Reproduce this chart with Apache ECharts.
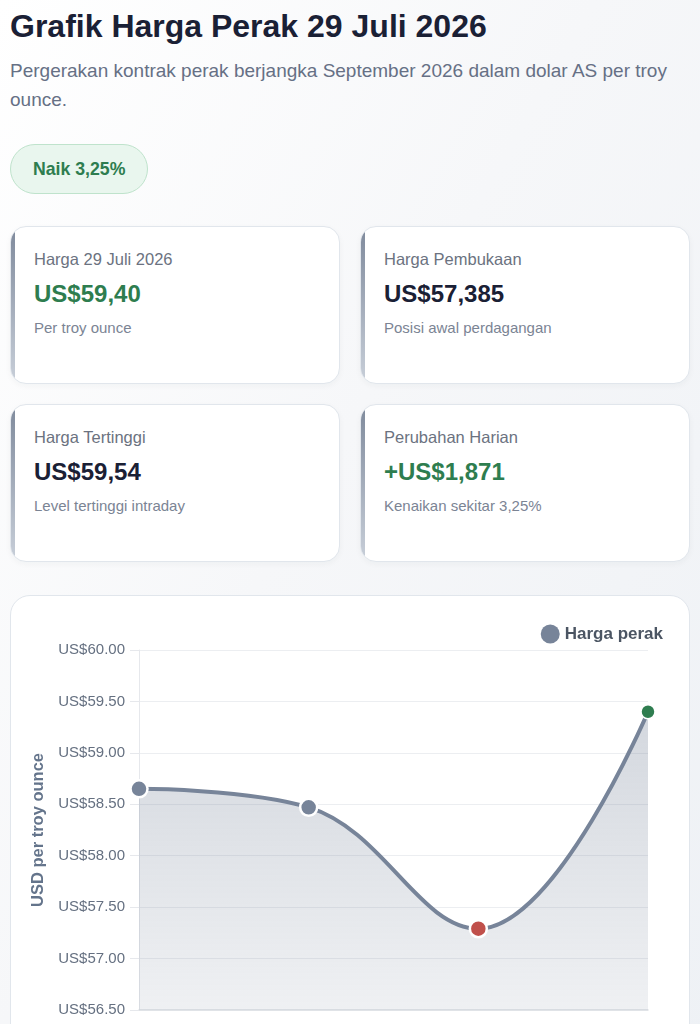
<!DOCTYPE html>
<html lang="id">
<head>
<meta charset="utf-8">
<title>Grafik Harga Perak 29 Juli 2026</title>
<script src="https://cdn.jsdelivr.net/npm/echarts@6/dist/echarts.min.js"></script>
<style>
  html, body { margin: 0; padding: 0; }
  body {
    font-family: "Liberation Sans", Arial, Helvetica, sans-serif;
    background: linear-gradient(120deg, #ffffff 0%, #f6f7f9 45%, #eef1f5 100%);
    width: 700px; min-height: 1024px; overflow: hidden;
  }
  .wrap { padding: 7px 10px 0 10px; }
  h1 { margin: 0; font-size: 32px; line-height: 38.4px; font-weight: 700; color: #1a2035; }
  .sub { margin: 10.5px 0 0 0; font-size: 19px; line-height: 29px; color: #667085; }
  .badge {
    display: inline-block; margin-top: 30px; height: 48px; line-height: 48px;
    padding: 0 22px; border-radius: 25px; background: #e9f6ee; border: 1px solid #bfe3cc;
    color: #2e7d4f; font-weight: 700; font-size: 17.7px;
  }
  .cards { display: grid; grid-template-columns: 330px 330px; gap: 20px; margin-top: 32px; }
  .card {
    position: relative; height: 158px; box-sizing: border-box; background: #fff;
    border: 1px solid #e1e6ec; border-radius: 16px; padding: 21px 0 0 23px; overflow: hidden;
    box-shadow: 0 2px 6px rgba(30, 41, 59, 0.04);
  }
  .card::before {
    content: ""; position: absolute; left: 0; top: 0; bottom: 0; width: 4px;
    background: linear-gradient(180deg, #7f8a9c 0%, #c8cfd9 100%);
  }
  .lbl { font-size: 16.5px; line-height: 22px; color: #6b7280; }
  .val { margin-top: 10px; font-size: 24px; line-height: 28px; font-weight: 700; color: #1a2035; }
  .val.up { color: #2e7d4f; }
  .note { margin-top: 10px; font-size: 15px; line-height: 20px; color: #7b8494; }
  .chartcard {
    margin-top: 33px; width: 680px; box-sizing: border-box; background: #fff;
    border: 1px solid #e1e6ec; border-radius: 20px; overflow: hidden;
  }
  #chart { width: 678px; height: 480px; }
</style>
</head>
<body>
<div class="wrap">
  <h1>Grafik Harga Perak 29 Juli 2026</h1>
  <p class="sub">Pergerakan kontrak perak berjangka September 2026 dalam dolar AS per troy ounce.</p>
  <div class="badge">Naik 3,25%</div>
  <div class="cards">
    <div class="card"><div class="lbl">Harga 29 Juli 2026</div><div class="val up">US$59,40</div><div class="note">Per troy ounce</div></div>
    <div class="card"><div class="lbl">Harga Pembukaan</div><div class="val">US$57,385</div><div class="note">Posisi awal perdagangan</div></div>
    <div class="card"><div class="lbl">Harga Tertinggi</div><div class="val">US$59,54</div><div class="note">Level tertinggi intraday</div></div>
    <div class="card"><div class="lbl">Perubahan Harian</div><div class="val up">+US$1,871</div><div class="note">Kenaikan sekitar 3,25%</div></div>
  </div>
  <div class="chartcard"><div id="chart"></div></div>
</div>
<script>
// ---- data ----
const categories = ["Penutupan sebelumnya", "Pembukaan sesi", "Terendah", "Penutupan"];
const prices = [58.65, 58.47, 57.29, 59.40];
const seriesName = "Harga perak";
const yTickMin = 56.5;
const yTickMax = 60;
const yTickStep = 0.5;

// ---- chart ----
const LINE = "#778499";
const minIdx = prices.indexOf(Math.min.apply(null, prices));
const lastIdx = prices.length - 1;
const pointData = prices.map(function (v, i) {
  let c = LINE;
  if (i === minIdx) c = "#c0504b";
  if (i === lastIdx) c = "#2f7d50";
  return { value: v, itemStyle: { color: c, borderColor: "#ffffff", borderWidth: i === lastIdx ? 1.5 : 2.5 }, symbolSize: i === lastIdx ? 14 : 17 };
});

const chart = echarts.init(document.getElementById("chart"), null, { renderer: "canvas" });
chart.setOption({
  animation: false,
  textStyle: { fontFamily: "Liberation Sans, Arial, sans-serif" },
  legend: {
    right: 21, top: 23.5, icon: "circle", itemWidth: 19, itemHeight: 19, itemGap: 10,
    textStyle: { fontSize: 17, fontWeight: "bold", color: "#4b5563" },
    data: [{ name: seriesName, itemStyle: { color: LINE, borderWidth: 0 } }]
  },
  grid: { left: 128, right: 41, top: 54, height: 360, containLabel: false },
  xAxis: {
    type: "category", data: categories, boundaryGap: false,
    axisLine: { show: true, lineStyle: { color: "#dcdfe4", width: 1.5 } },
    axisTick: { show: false },
    axisLabel: { color: "#6b7280", fontSize: 14, margin: 14 },
    splitLine: { show: false }
  },
  yAxis: {
    type: "value", min: yTickMin, max: yTickMax, interval: yTickStep,
    name: "USD per troy ounce", nameLocation: "middle", nameGap: 89,
    nameTextStyle: { fontSize: 16.5, fontWeight: "bold", color: "#64748b" },
    axisLine: { show: true, lineStyle: { color: "#e6e8ec" } },
    axisTick: { show: true, length: 9, lineStyle: { color: "#e6e8ec" } },
    axisLabel: { color: "#657081", fontSize: 15, margin: 14, formatter: function (v) { return "US$" + v.toFixed(2); } },
    splitLine: { show: true, lineStyle: { color: "#eceef1", width: 1 } }
  },
  series: [{
    name: seriesName, type: "line", data: pointData, smooth: 0.4,
    symbol: "circle", showAllSymbol: true,
    lineStyle: { color: LINE, width: 4 },
    itemStyle: { color: LINE },
    areaStyle: {
      color: new echarts.graphic.LinearGradient(0, 0, 0, 1, [
        { offset: 0, color: "rgba(119,132,153,0.46)" },
        { offset: 1, color: "rgba(119,132,153,0.17)" }
      ])
    },
    z: 3
  }]
});
</script>
</body>
</html>
